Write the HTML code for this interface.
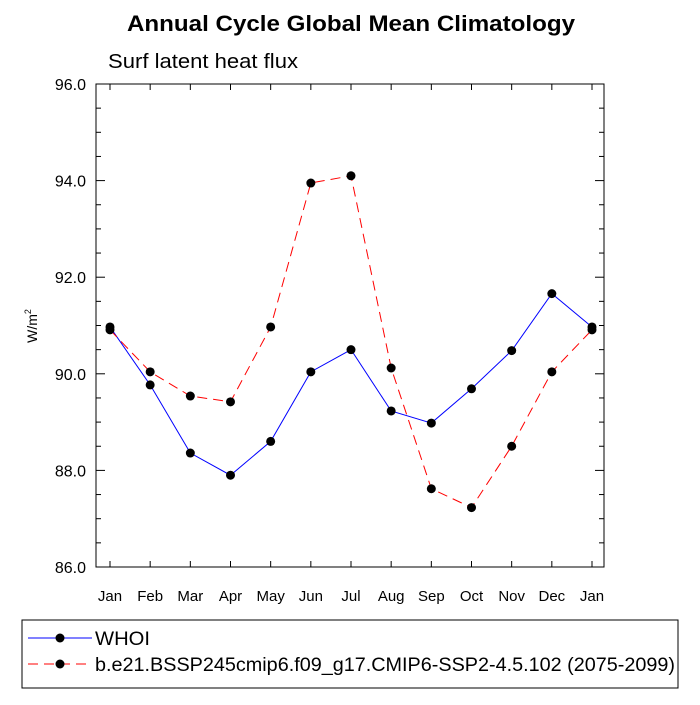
<!DOCTYPE html>
<html><head><meta charset="utf-8"><style>
body{margin:0;background:#fff;}
svg text{font-family:"Liberation Sans",sans-serif;}
</style></head><body>
<svg id="chart" width="700" height="700" xmlns="http://www.w3.org/2000/svg">
<text x="127" y="31" font-size="22" font-weight="bold" textLength="448" lengthAdjust="spacingAndGlyphs">Annual Cycle Global Mean Climatology</text>
<text x="108" y="68" font-size="20" textLength="190" lengthAdjust="spacingAndGlyphs">Surf latent heat flux</text>
<text x="0" y="0" font-size="14" transform="translate(37,326) rotate(-90)" text-anchor="middle">W/m<tspan dy="-6" font-size="9">2</tspan></text>
<rect x="96" y="84" width="508" height="483" fill="none" stroke="#000" stroke-width="1"/>
<g id="axes"></g>
<g id="series"></g>
<g>
<rect x="22" y="620" width="656" height="68" fill="none" stroke="#000"/>
<line x1="28" y1="638" x2="92" y2="638" stroke="#0000ff"/>
<circle cx="60" cy="638" r="4.5" fill="#000"/>
<text x="95" y="645" font-size="19" textLength="55" lengthAdjust="spacingAndGlyphs">WHOI</text>
<line x1="28" y1="664" x2="92" y2="664" stroke="#ff0000" stroke-dasharray="10,6"/>
<circle cx="60" cy="664" r="4.5" fill="#000"/>
<text x="95" y="671" font-size="19" textLength="580" lengthAdjust="spacingAndGlyphs">b.e21.BSSP245cmip6.f09_g17.CMIP6-SSP2-4.5.102 (2075-2099)</text>
</g>
</svg>
<script>
const months=["Jan","Feb","Mar","Apr","May","Jun","Jul","Aug","Sep","Oct","Nov","Dec","Jan"];
const whoi=[90.97,89.77,88.36,87.9,88.6,90.04,90.5,89.23,88.98,89.69,90.48,91.66,90.97];
const model=[90.91,90.04,89.54,89.42,90.97,93.95,94.1,90.12,87.62,87.23,88.5,90.04,90.91];
const yTicks=[86,88,90,92,94,96];
const yTickLabels=["86.0","88.0","90.0","92.0","94.0","96.0"];
const NS="http://www.w3.org/2000/svg";
const x0=110,x1=592,yTop=84,yBot=567,yMin=86,yMax=96;
function xs(i){return x0+(x1-x0)*i/(months.length-1);}
function ys(v){return yBot-(v-yMin)/(yMax-yMin)*(yBot-yTop);}
function mk(t,a,p){const e=document.createElementNS(NS,t);for(const k in a)e.setAttribute(k,a[k]);p.appendChild(e);return e;}
const ax=document.getElementById('axes');
months.forEach((m,i)=>{
 const x=xs(i);
 let t=mk('line',{x1:x,y1:yBot,x2:x,y2:yBot-6,stroke:'#000'},ax);
 
 
 t=mk('line',{x1:x,y1:yTop,x2:x,y2:yTop+6,stroke:'#000'},ax);
 
 
 const l=mk('text',{x:x,y:601,'font-size':15,'text-anchor':'middle'},ax);
 l.textContent=m;
 
 
});
for(let v=yMin;v<=yMax+1e-9;v+=0.5){
 const y=ys(v);const major=Math.abs(v-Math.round(v))<1e-9&&Math.round(v)%2===0;const L=major?9:5;
 let t=mk('line',{x1:96,y1:y,x2:96+L,y2:y,stroke:'#000'},ax);
 
 
 t=mk('line',{x1:604,y1:y,x2:604-L,y2:y,stroke:'#000'},ax);
 
 
}
yTicks.forEach((v,i)=>{
 const l=mk('text',{x:86,y:ys(v)+6,'font-size':16,'text-anchor':'end'},ax);
 l.textContent=yTickLabels[i];
 
 
});
const sg=document.getElementById('series');
function draw(vals,color,dash,name){
 const pl=mk('polyline',{points:vals.map((v,i)=>xs(i)+','+ys(v)).join(' '),fill:'none',stroke:color,'stroke-width':1},sg);
 if(dash)pl.setAttribute('stroke-dasharray',dash);
 
 
 vals.forEach((v,i)=>{
  const c=mk('circle',{cx:xs(i),cy:ys(v),r:4.5,fill:'#000'},sg);
  
  
 });
}
draw(whoi,'#0000ff',null,'whoi');
draw(model,'#ff0000','10,6','model');
</script>
</body></html>
